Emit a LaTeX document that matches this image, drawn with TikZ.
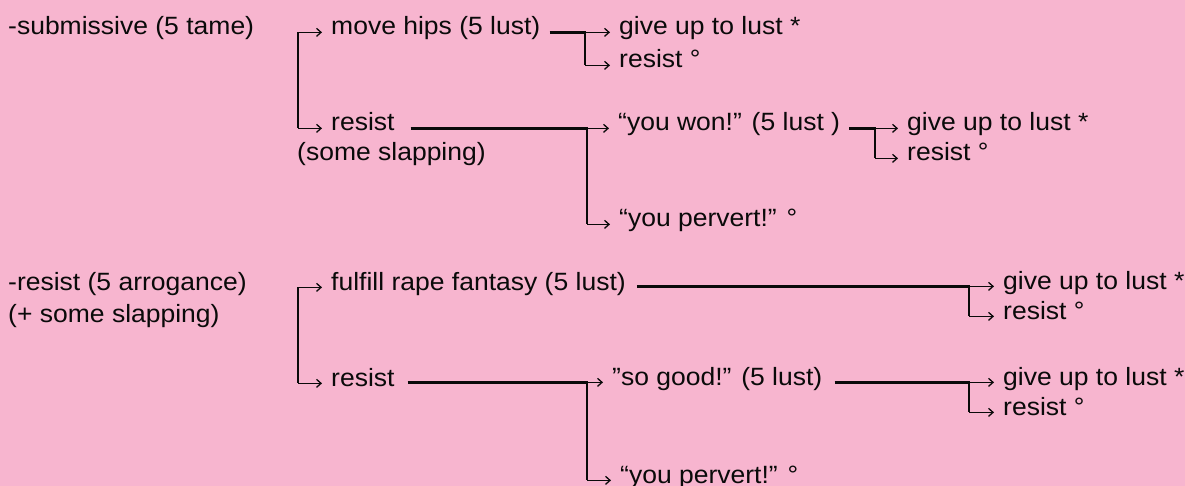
\documentclass[tikz,border=0pt]{standalone}
\usepackage{fontspec}
\setmainfont{Liberation Sans}[FakeStretch=1.06]
\usetikzlibrary{arrows.meta}
\definecolor{bgpink}{RGB}{247,181,207}
\definecolor{ink}{RGB}{10,10,10}

% the two arrows leaving a bracket at x = #1 towards nodes #2 and #3
\newcommand\forktips[3]{%
  \coordinate (fx) at (#1,0);
  \draw[tipline] (fx |- #2.mid west) -- ([xshift=-9pt]#2.mid west);
  \draw[tipline] (fx |- #3.mid west) -- ([xshift=-9pt]#3.mid west);
}
% bracket with no feed line: #1 = x of the bar, #2 upper target, #3 lower target
\newcommand\forkto[3]{%
  \coordinate (fx) at (#1,0);
  \draw[bar] (fx |- #2.mid west) -- (fx |- #3.mid west);
  \forktips{#1}{#2}{#3}%
}
% bracket fed from source #1 (gap #2): bar at x = #3, targets #4 and #5
\newcommand\forkfrom[5]{%
  \coordinate (fx) at (#3,0);
  \path ([xshift=#2]#1.mid east) coordinate (fs);
  \draw[bar] (fs |- #4.mid west) -- (fx |- #4.mid west) -- (fx |- #5.mid west);
  \forktips{#3}{#4}{#5}%
}

\begin{document}
\begin{tikzpicture}[x=1pt,y=-1pt,
  lbl/.style={inner sep=0pt,anchor=base west,text=ink,font=\fontsize{25}{29}\selectfont},
  bar/.style={draw=ink,line width=2.8pt,line join=miter},
  tipline/.style={draw=ink,line width=1.3pt,-{Straight Barb[length=4.5pt,width=8pt]}}]
\useasboundingbox (0,0) rectangle (1185,486);
\fill[bgpink] (0,0) rectangle (1185,486);

% first choice
\node[lbl] (a0) at (8,35) {-submissive (5 tame)};
\node[lbl] (a1) at (331,35) {move hips (5 lust)};
\node[lbl] (a2) at (331,131) {resist};
\node[lbl] (a2s) at (297,161) {(some slapping)};
\node[lbl] (a11) at (619,35) {give up to lust *};
\node[lbl] (a12) at (619,68) {resist °};
\node[lbl] (a21) at (618,131) {“you won!” (5 lust )};
\node[lbl] (a22) at (619,227) {“you pervert!” °};
\node[lbl] (a211) at (907,131) {give up to lust *};
\node[lbl] (a212) at (907,161) {resist °};

\forkto{298}{a1}{a2}
\forkfrom{a1}{9pt}{585}{a11}{a12}
\forkfrom{a2}{16pt}{587}{a21}{a22}
\forkfrom{a21}{9pt}{875}{a211}{a212}

% second choice
\node[lbl] (b0) at (8,290) {-resist (5 arrogance)};
\node[lbl] (b0s) at (8,322) {(+ some slapping)};
\node[lbl] (b1) at (331,290) {fulfill rape fantasy (5 lust)};
\node[lbl] (b2) at (331,386) {resist};
\node[lbl] (b11) at (1003,289) {give up to lust *};
\node[lbl] (b12) at (1003,319) {resist °};
\node[lbl] (b21) at (612,385) {”so good!” (5 lust)};
\node[lbl] (b22) at (620,483) {“you pervert!” °};
\node[lbl] (b211) at (1003,385) {give up to lust *};
\node[lbl] (b212) at (1003,415) {resist °};

\forkto{298}{b1}{b2}
\forkfrom{b1}{11pt}{969}{b11}{b12}
\forkfrom{b2}{13pt}{587}{b21}{b22}
\forkfrom{b21}{12pt}{969}{b211}{b212}
\end{tikzpicture}
\end{document}
